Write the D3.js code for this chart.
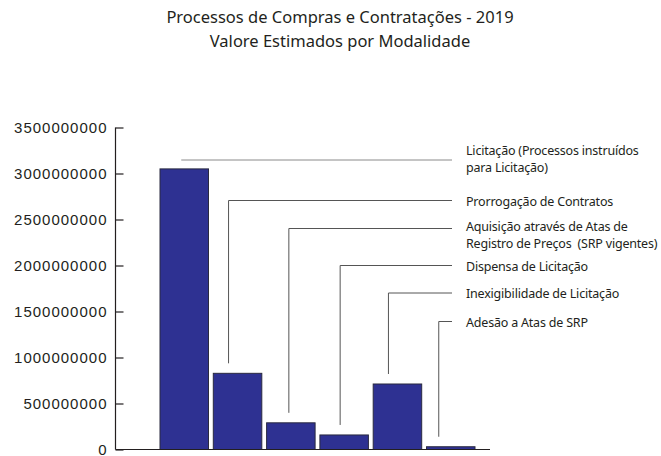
<!DOCTYPE html>
<html>
<head>
<meta charset="utf-8">
<script src="https://cdn.jsdelivr.net/npm/d3@7"></script>
<style>
	body { margin: 0; background: #fff; }
	svg { display: block; font-family: "Noto Sans", sans-serif; }
	.title { font-size: 16.5px; fill: #231f20; }
	.axis text { font-size: 15px; fill: #231f20; letter-spacing: 1px; }
	.axis path, .axis line { stroke: #231f20; stroke-width: 1.2; }
	.label { font-size: 12.5px; fill: #231f20; letter-spacing: -0.2px; white-space: pre; }
</style>
</head>
<body>
<svg class="chart" width="661" height="456"></svg>
<script>
var categories = [
	"Licitação (Processos instruídos|para Licitação)",
	"Prorrogação de Contratos",
	"Aquisição através de Atas de|Registro de Preços  (SRP vigentes)",
	"Dispensa de Licitação",
	"Inexigibilidade de Licitação",
	"Adesão a Atas de SRP"
];
var values = [3050000000, 828000000, 290000000, 158000000, 712000000, 30000000];
var yTicks = [0, 500000000, 1000000000, 1500000000, 2000000000, 2500000000, 3000000000, 3500000000];
var titleLines = ["Processos de Compras e Contratações - 2019", "Valore Estimados por Modalidade"];

// layout of the callouts: y of each leader's horizontal, baseline of its label, x shift from bar centre
var leaderY = [160, 200.5, 228.5, 265.5, 293, 321.5];
var labelY = [155, 205.5, 231, 270.5, 298, 326.5];
var leaderShift = [-3, -9, -2, -4, -9, -12];

var chart = d3.select('.chart');
var axisX = 115.5, baseY = 449.5, axisEnd = 490, labelX = 466, lineEnd = 452;

var x = d3.scaleBand()
	.domain(categories)
	.range([157.6, 477.4])
	.paddingInner(0.09)
	.paddingOuter(0.045);
var y = d3.scaleLinear()
	.domain([0, 3500000000])
	.range([baseY, 127.5]);

chart.selectAll('.title')
	.data(titleLines)
	.enter().append('text')
	.attr('class', 'title')
	.attr('x', 340)
	.attr('y', function(d, i){ return 22.5 + i * 24 })
	.attr('text-anchor', 'middle')
	.text(function(d){ return d });

var yAxis = d3.axisLeft(y)
	.tickValues(yTicks)
	.tickSizeInner(-8)
	.tickSizeOuter(0)
	.tickPadding(8)
	.tickFormat(function(d){ return String(d) });

chart.append('g')
	.attr('class', 'y axis')
	.attr('transform', 'translate(' + axisX + ',0)')
	.call(yAxis)
	.select('.domain').remove();

chart.append('line')
	.attr('x1', axisX).attr('x2', axisX)
	.attr('y1', y(3500000000)).attr('y2', baseY)
	.attr('stroke', '#231f20').attr('stroke-width', 1.2);

chart.selectAll('.bar')
	.data(values)
	.enter().append('rect')
	.attr('class', 'bar')
	.attr('x', function(d, i){ return x(categories[i]) })
	.attr('y', function(d){ return y(d) })
	.attr('width', x.bandwidth())
	.attr('height', function(d){ return baseY - y(d) })
	.attr('fill', '#2e3192')
	.attr('stroke', '#2a2a40')
	.attr('stroke-width', 1);

chart.append('line')
	.attr('x1', axisX).attr('x2', axisEnd)
	.attr('y1', baseY).attr('y2', baseY)
	.attr('stroke', '#231f20').attr('stroke-width', 1.2);

// callout lines
chart.selectAll('.leader')
	.data(values)
	.enter().append('path')
	.attr('class', 'leader')
	.attr('fill', 'none')
	.attr('stroke', function(d, i){ return i === 0 ? '#8a8a8a' : '#555' })
	.attr('stroke-width', 1)
	.attr('d', function(d, i){
		var cx = x(categories[i]) + x.bandwidth() / 2 + leaderShift[i];
		if(i === 0) return 'M' + cx + ',' + leaderY[i] + 'H' + lineEnd;
		return 'M' + cx + ',' + (y(d) - 10) + 'V' + leaderY[i] + 'H' + lineEnd;
	});

// one text per line so the rows stay separate
categories.forEach(function(c, i){
	chart.selectAll('.label-' + i)
		.data(c.split('|'))
		.enter().append('text')
		.attr('class', 'label label-' + i)
		.attr('x', labelX)
		.attr('y', function(s, j){ return labelY[i] + j * 17 })
		.text(function(s){ return s });
});
</script>
</body>
</html>
